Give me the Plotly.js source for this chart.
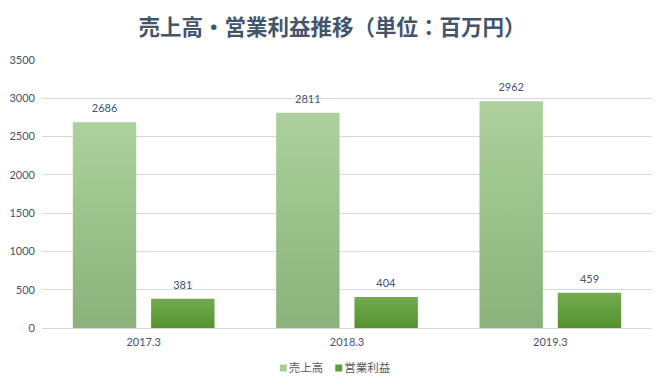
<!DOCTYPE html>
<html><head><meta charset="utf-8">
<script src="https://cdn.plot.ly/plotly-3.0.1.min.js"></script>
<style>html,body{margin:0;padding:0;background:#fff}#chart{width:664px;height:388px}</style>
</head><body><div id="chart"></div>
<script>
const categories = ['2017.3', '2018.3', '2019.3'];
const salesValues = [2686, 2811, 2962];
const profitValues = [381, 404, 459];
const seriesNames = ['売上高', '営業利益'];
const yTickVals = [0, 500, 1000, 1500, 2000, 2500, 3000, 3500];

const txtColor = '#44546A';
const fontFam = 'Lato, "Noto Sans CJK JP", sans-serif';

const traces = [
  {type:'bar', name:seriesNames[0], x:categories, y:salesValues, text:salesValues.map(String),
   textposition:'outside', cliponaxis:false, marker:{color:'#A9CF95'},
   textfont:{size:11,color:txtColor,family:fontFam}, hoverinfo:'none'},
  {type:'bar', name:seriesNames[1], x:categories, y:profitValues, text:profitValues.map(String),
   textposition:'outside', cliponaxis:false, marker:{color:'#5F9C3A'},
   textfont:{size:11,color:txtColor,family:fontFam}, hoverinfo:'none'}
];

const layout = {
  width:664, height:388,
  margin:{l:42, r:12, t:60, b:60, autoexpand:false},
  paper_bgcolor:'#fff', plot_bgcolor:'#fff',
  title:{text:'売上高・営業利益推移（単位：百万円）', x:0.5, xanchor:'center', y:0.93, yanchor:'middle',
    font:{family:'"Noto Sans CJK JP", sans-serif', size:21.5, color:'#44546A', weight:'bold'}},
  barmode:'group', bargap:0.23, bargroupgap:0.19,
  xaxis:{type:'category', showgrid:false, zeroline:false, showline:false, ticks:'', ticklabelstandoff:6,
    tickfont:{family:fontFam, size:11, color:txtColor}},
  yaxis:{range:[0,3500], tickvals:yTickVals, showgrid:true, gridcolor:'#D9D9D9', gridwidth:1,
    zeroline:true, zerolinecolor:'#D9D9D9', zerolinewidth:1, showline:false, ticks:'', ticklabelstandoff:6,
    tickfont:{family:fontFam, size:11, color:txtColor}},
  legend:{orientation:'h', x:0.5, xanchor:'center', y:-0.149, yanchor:'middle',
    font:{family:'"Noto Sans CJK JP", sans-serif', size:11.5, color:'#595959'},
    itemwidth:30, traceorder:'normal'},
  showlegend:true
};

function parseTranslate(s){
  const m = /translate\(\s*([-\d.e]+)[ ,]+([-\d.e]+)\s*\)/.exec(s||'');
  return m ? [parseFloat(m[1]), parseFloat(m[2])] : [0,0];
}

function polish(gd){
  const svg = gd.querySelector('svg.main-svg');
  if(!svg) return;
  const ns='http://www.w3.org/2000/svg';
  let defs = svg.querySelector('defs');
  if(!defs){defs=document.createElementNS(ns,'defs');svg.insertBefore(defs,svg.firstChild);}
  const grads=[['gradSales','#ADD19C','#8AB27A'],['gradProfit','#72AB50','#55922D']];
  grads.forEach(g=>{
    if(svg.querySelector('#'+g[0])) return;
    const lg=document.createElementNS(ns,'linearGradient');
    lg.setAttribute('id',g[0]);lg.setAttribute('x1','0');lg.setAttribute('y1','0');lg.setAttribute('x2','0');lg.setAttribute('y2','1');
    [[0,g[1]],[1,g[2]]].forEach(s=>{const st=document.createElementNS(ns,'stop');st.setAttribute('offset',s[0]);st.setAttribute('stop-color',s[1]);lg.appendChild(st);});
    defs.appendChild(lg);
  });
  gd.querySelectorAll('.barlayer .trace').forEach((tg,i)=>{
    tg.querySelectorAll('path').forEach(p=>{p.style.fill='url(#'+(i===0?'gradSales':'gradProfit')+')';});
    tg.querySelectorAll('.bartext').forEach(t=>{
      const tr=t.getAttribute('transform')||'';
      t.setAttribute('transform','translate(0,-5) '+tr);
    });
  });
  // legend: small squares right next to text, compact spacing, centred
  const legendG = gd.querySelector('.legend');
  if(legendG){
    const lx = parseTranslate(legendG.getAttribute('transform'))[0];
    const items = Array.from(legendG.querySelectorAll('.traces'));
    const widths = items.map(it=>{
      const t = it.querySelector('text.legendtext');
      return t ? t.getComputedTextLength() : 30;
    });
    const sq=7, gapTxt=2, gapItem=12;
    const W = widths.reduce((a,w)=>a+sq+gapTxt+w,0) + gapItem*(items.length-1);
    const centre = 335;
    let cur = centre - W/2;
    items.forEach((it,i)=>{
      const lp = it.querySelector('.legendpoints');
      if(lp) lp.setAttribute('transform','translate(22.9,0) scale(0.58)');
      const ty = parseTranslate(it.getAttribute('transform'))[1];
      it.setAttribute('transform','translate('+(cur - 31 - lx)+','+ty+')');
      cur += sq+gapTxt+widths[i]+gapItem;
    });
  }
}

Plotly.newPlot('chart', traces, layout, {staticPlot:true}).then(gd=>{
  polish(gd);
});
</script></body></html>
